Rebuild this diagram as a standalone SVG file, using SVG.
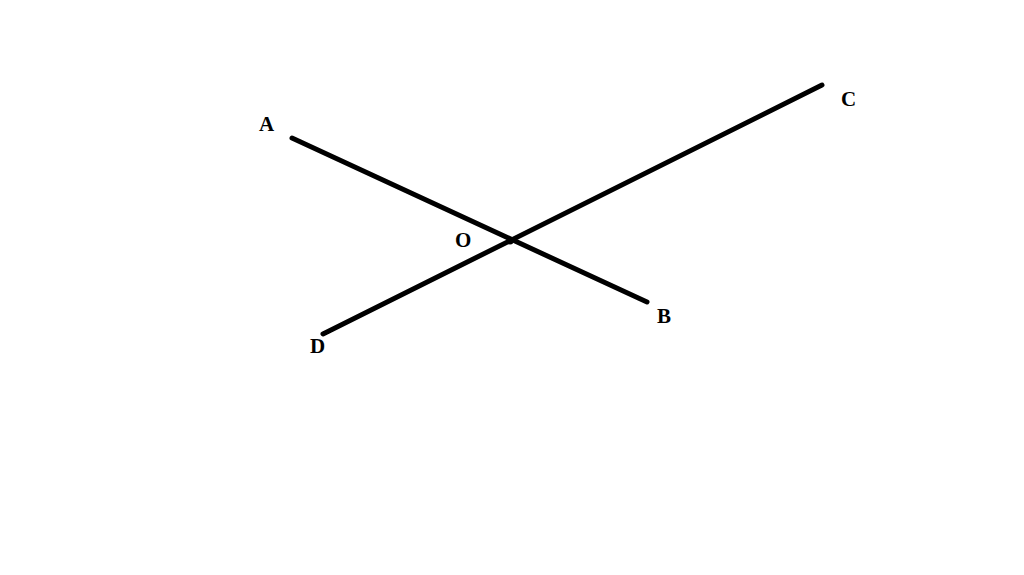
<svg xmlns="http://www.w3.org/2000/svg" width="1024" height="575" viewBox="0 0 1024 575">
<style>
.ln{stroke:#000;stroke-width:5;stroke-linecap:round;fill:none}
.lb{font-family:"Liberation Serif",serif;font-weight:bold;font-size:21px;fill:#000}
</style>
<rect width="1024" height="575" fill="#fff"/>
<g id="connectors">
<line class="ln" x1="292" y1="138" x2="647" y2="302"/>
<line class="ln" x1="323" y1="334" x2="822" y2="85"/>
</g>
<g id="O"><circle cx="510" cy="241" r="3.5" fill="#000"/><text class="lb" x="455" y="247">O</text></g>
<g id="A"><text class="lb" x="259" y="131">A</text></g>
<g id="B"><text class="lb" x="657" y="323">B</text></g>
<g id="C"><text class="lb" x="841" y="106">C</text></g>
<g id="D"><text class="lb" x="310" y="353">D</text></g>
</svg>
